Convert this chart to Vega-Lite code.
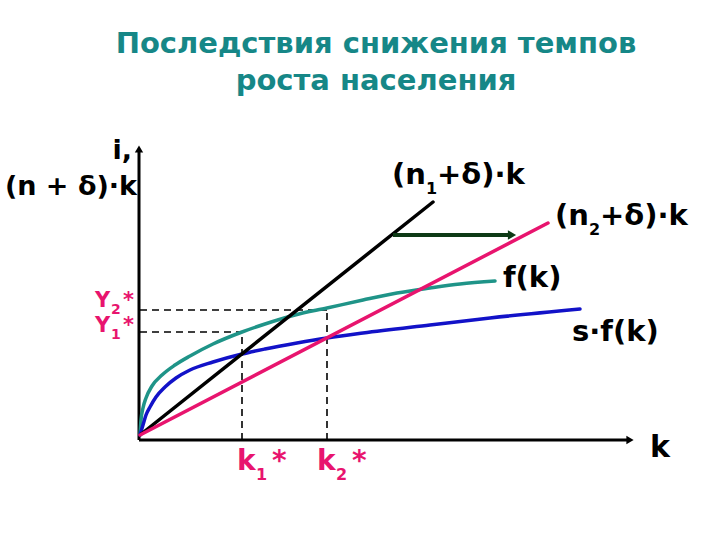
{
  "$schema": "https://vega.github.io/schema/vega-lite/v6.json",
  "width": 720,
  "height": 540,
  "autosize": {"type": "fit", "contains": "padding"},
  "padding": 0,
  "background": "white",
  "config": {"view": {"stroke": null}},
  "datasets": {
    "curves": [
      {"series": "f(k)", "k": 0, "v": 0},
      {"series": "f(k)", "k": 1, "v": 15},
      {"series": "f(k)", "k": 3, "v": 27},
      {"series": "f(k)", "k": 6, "v": 37},
      {"series": "f(k)", "k": 12, "v": 49},
      {"series": "f(k)", "k": 22, "v": 60},
      {"series": "f(k)", "k": 35, "v": 70},
      {"series": "f(k)", "k": 50, "v": 79},
      {"series": "f(k)", "k": 73, "v": 91},
      {"series": "f(k)", "k": 102, "v": 103},
      {"series": "f(k)", "k": 125, "v": 111},
      {"series": "f(k)", "k": 155, "v": 120},
      {"series": "f(k)", "k": 187, "v": 127},
      {"series": "f(k)", "k": 223, "v": 135},
      {"series": "f(k)", "k": 257, "v": 142},
      {"series": "f(k)", "k": 290, "v": 147},
      {"series": "f(k)", "k": 320, "v": 151},
      {"series": "f(k)", "k": 355, "v": 154},
      {"series": "s·f(k)", "k": 0, "v": 0},
      {"series": "s·f(k)", "k": 3, "v": 10},
      {"series": "s·f(k)", "k": 6, "v": 20},
      {"series": "s·f(k)", "k": 10, "v": 28},
      {"series": "s·f(k)", "k": 16, "v": 38},
      {"series": "s·f(k)", "k": 25, "v": 48},
      {"series": "s·f(k)", "k": 36, "v": 57},
      {"series": "s·f(k)", "k": 50, "v": 65},
      {"series": "s·f(k)", "k": 73, "v": 73},
      {"series": "s·f(k)", "k": 102, "v": 81},
      {"series": "s·f(k)", "k": 125, "v": 86},
      {"series": "s·f(k)", "k": 157, "v": 92},
      {"series": "s·f(k)", "k": 187, "v": 97},
      {"series": "s·f(k)", "k": 223, "v": 102},
      {"series": "s·f(k)", "k": 290, "v": 110},
      {"series": "s·f(k)", "k": 350, "v": 117},
      {"series": "s·f(k)", "k": 440, "v": 126},
      {"series": "(n1+δ)·k", "k": 0, "v": 0},
      {"series": "(n1+δ)·k", "k": 293, "v": 233},
      {"series": "(n2+δ)·k", "k": 0, "v": 0},
      {"series": "(n2+δ)·k", "k": 408, "v": 212}
    ],
    "dashes": [
      {"name": "Y2", "k": 0, "v": 125, "k2": 187, "v2": 125},
      {"name": "k2", "k": 187, "v": -5, "k2": 187, "v2": 125},
      {"name": "Y1", "k": 0, "v": 103, "k2": 102, "v2": 103},
      {"name": "k1", "k": 102, "v": -5, "k2": 102, "v2": 103}
    ],
    "axes": [
      {"name": "vertical", "k": -1, "v": -5, "k2": -1, "v2": 284},
      {"name": "horizontal", "k": -1, "v": -5, "k2": 488, "v2": -5}
    ],
    "heads": [
      {"dir": "up", "k": -1, "v": 286},
      {"dir": "right", "k": 490, "v": -5}
    ],
    "shift": [
      {"k": 253, "v": 200, "k2": 370, "v2": 200}
    ],
    "shifthead": [
      {"k": 372, "v": 200}
    ],
    "title": [
      {"text": "Последствия снижения темпов", "k": 236, "v": 382},
      {"text": "роста населения", "k": 236, "v": 345}
    ],
    "curvelabels": [
      {"text": "(n", "k": 252, "v": 251},
      {"text": "+δ)·k", "k": 297, "v": 251},
      {"text": "(n", "k": 415, "v": 210},
      {"text": "+δ)·k", "k": 460, "v": 210},
      {"text": "f(k)", "k": 363, "v": 148},
      {"text": "s·f(k)", "k": 432, "v": 94}
    ],
    "curvesubs": [
      {"text": "1", "k": 286, "v": 241},
      {"text": "2", "k": 449, "v": 200}
    ],
    "ylabels": [
      {"text": "i,", "k": -8, "v": 276},
      {"text": "(n + δ)·k", "k": -3, "v": 240}
    ],
    "klabel": [
      {"text": "k", "k": 510, "v": -22}
    ],
    "ystar": [
      {"text": "Y", "k": -45, "v": 128},
      {"text": "*", "k": -17, "v": 128},
      {"text": "Y", "k": -45, "v": 103},
      {"text": "*", "k": -17, "v": 103}
    ],
    "ystarsubs": [
      {"text": "2", "k": -29, "v": 121},
      {"text": "1", "k": -29, "v": 96}
    ],
    "kstar": [
      {"text": "k", "k": 97, "v": -35},
      {"text": "*", "k": 132, "v": -35},
      {"text": "k", "k": 177, "v": -35},
      {"text": "*", "k": 212, "v": -35}
    ],
    "kstarsubs": [
      {"text": "1", "k": 116, "v": -45},
      {"text": "2", "k": 196, "v": -45}
    ]
  },
  "layer": [
    {
      "data": {"name": "dashes"},
      "mark": {"type": "rule", "color": "black", "strokeWidth": 1.6, "strokeDash": [7, 5]},
      "encoding": {
        "x": {"field": "k", "type": "quantitative", "scale": {"domain": [-140, 580], "nice": false, "zero": false}, "axis": null},
        "y": {"field": "v", "type": "quantitative", "scale": {"domain": [-105, 435], "nice": false, "zero": false}, "axis": null},
        "x2": {"field": "k2"},
        "y2": {"field": "v2"}
      }
    },
    {
      "data": {"name": "axes"},
      "mark": {"type": "rule", "color": "black", "strokeWidth": 3},
      "encoding": {
        "x": {"field": "k", "type": "quantitative", "scale": {"domain": [-140, 580], "nice": false, "zero": false}, "axis": null},
        "y": {"field": "v", "type": "quantitative", "scale": {"domain": [-105, 435], "nice": false, "zero": false}, "axis": null},
        "x2": {"field": "k2"},
        "y2": {"field": "v2"}
      }
    },
    {
      "data": {"name": "heads"},
      "mark": {"type": "point", "filled": true, "color": "black", "opacity": 1, "size": 70},
      "encoding": {
        "x": {"field": "k", "type": "quantitative", "scale": {"domain": [-140, 580], "nice": false, "zero": false}, "axis": null},
        "y": {"field": "v", "type": "quantitative", "scale": {"domain": [-105, 435], "nice": false, "zero": false}, "axis": null},
        "shape": {"field": "dir", "type": "nominal", "scale": {"domain": ["up", "right"], "range": ["triangle-up", "triangle-right"]}, "legend": null}
      }
    },
    {
      "data": {"name": "curves"},
      "mark": {"type": "line", "strokeWidth": 3.5, "strokeCap": "round", "interpolate": "monotone"},
      "encoding": {
        "x": {"field": "k", "type": "quantitative", "scale": {"domain": [-140, 580], "nice": false, "zero": false}, "axis": null},
        "y": {"field": "v", "type": "quantitative", "scale": {"domain": [-105, 435], "nice": false, "zero": false}, "axis": null},
        "color": {"field": "series", "type": "nominal", "scale": {"domain": ["f(k)", "s·f(k)", "(n1+δ)·k", "(n2+δ)·k"], "range": ["#1f9488", "#1212c8", "#000000", "#e8146e"]}, "legend": null}
      }
    },
    {
      "data": {"name": "shift"},
      "mark": {"type": "rule", "color": "#0e3a16", "strokeWidth": 4},
      "encoding": {
        "x": {"field": "k", "type": "quantitative", "scale": {"domain": [-140, 580], "nice": false, "zero": false}, "axis": null},
        "y": {"field": "v", "type": "quantitative", "scale": {"domain": [-105, 435], "nice": false, "zero": false}, "axis": null},
        "x2": {"field": "k2"},
        "y2": {"field": "v2"}
      }
    },
    {
      "data": {"name": "shifthead"},
      "mark": {"type": "point", "shape": "triangle-right", "filled": true, "color": "#0e3a16", "opacity": 1, "size": 90},
      "encoding": {
        "x": {"field": "k", "type": "quantitative", "scale": {"domain": [-140, 580], "nice": false, "zero": false}, "axis": null},
        "y": {"field": "v", "type": "quantitative", "scale": {"domain": [-105, 435], "nice": false, "zero": false}, "axis": null}
      }
    },
    {
      "data": {"name": "title"},
      "mark": {"type": "text", "font": "DejaVu Sans", "fontWeight": "bold", "fontSize": 29, "color": "#168787", "align": "center", "baseline": "alphabetic"},
      "encoding": {
        "x": {"field": "k", "type": "quantitative", "scale": {"domain": [-140, 580], "nice": false, "zero": false}, "axis": null},
        "y": {"field": "v", "type": "quantitative", "scale": {"domain": [-105, 435], "nice": false, "zero": false}, "axis": null},
        "text": {"field": "text"}
      }
    },
    {
      "data": {"name": "curvelabels"},
      "mark": {"type": "text", "font": "DejaVu Sans", "fontWeight": "bold", "fontSize": 29, "color": "black", "align": "left", "baseline": "alphabetic"},
      "encoding": {
        "x": {"field": "k", "type": "quantitative", "scale": {"domain": [-140, 580], "nice": false, "zero": false}, "axis": null},
        "y": {"field": "v", "type": "quantitative", "scale": {"domain": [-105, 435], "nice": false, "zero": false}, "axis": null},
        "text": {"field": "text"}
      }
    },
    {
      "data": {"name": "curvesubs"},
      "mark": {"type": "text", "font": "DejaVu Sans", "fontWeight": "bold", "fontSize": 16, "color": "black", "align": "left", "baseline": "alphabetic"},
      "encoding": {
        "x": {"field": "k", "type": "quantitative", "scale": {"domain": [-140, 580], "nice": false, "zero": false}, "axis": null},
        "y": {"field": "v", "type": "quantitative", "scale": {"domain": [-105, 435], "nice": false, "zero": false}, "axis": null},
        "text": {"field": "text"}
      }
    },
    {
      "data": {"name": "ylabels"},
      "mark": {"type": "text", "font": "DejaVu Sans", "fontWeight": "bold", "fontSize": 27, "color": "black", "align": "right", "baseline": "alphabetic"},
      "encoding": {
        "x": {"field": "k", "type": "quantitative", "scale": {"domain": [-140, 580], "nice": false, "zero": false}, "axis": null},
        "y": {"field": "v", "type": "quantitative", "scale": {"domain": [-105, 435], "nice": false, "zero": false}, "axis": null},
        "text": {"field": "text"}
      }
    },
    {
      "data": {"name": "klabel"},
      "mark": {"type": "text", "font": "DejaVu Sans", "fontWeight": "bold", "fontSize": 30, "color": "black", "align": "left", "baseline": "alphabetic"},
      "encoding": {
        "x": {"field": "k", "type": "quantitative", "scale": {"domain": [-140, 580], "nice": false, "zero": false}, "axis": null},
        "y": {"field": "v", "type": "quantitative", "scale": {"domain": [-105, 435], "nice": false, "zero": false}, "axis": null},
        "text": {"field": "text"}
      }
    },
    {
      "data": {"name": "ystar"},
      "mark": {"type": "text", "font": "DejaVu Sans", "fontWeight": "bold", "fontSize": 21, "color": "#e8146e", "align": "left", "baseline": "alphabetic"},
      "encoding": {
        "x": {"field": "k", "type": "quantitative", "scale": {"domain": [-140, 580], "nice": false, "zero": false}, "axis": null},
        "y": {"field": "v", "type": "quantitative", "scale": {"domain": [-105, 435], "nice": false, "zero": false}, "axis": null},
        "text": {"field": "text"}
      }
    },
    {
      "data": {"name": "ystarsubs"},
      "mark": {"type": "text", "font": "DejaVu Sans", "fontWeight": "bold", "fontSize": 14, "color": "#e8146e", "align": "left", "baseline": "alphabetic"},
      "encoding": {
        "x": {"field": "k", "type": "quantitative", "scale": {"domain": [-140, 580], "nice": false, "zero": false}, "axis": null},
        "y": {"field": "v", "type": "quantitative", "scale": {"domain": [-105, 435], "nice": false, "zero": false}, "axis": null},
        "text": {"field": "text"}
      }
    },
    {
      "data": {"name": "kstar"},
      "mark": {"type": "text", "font": "DejaVu Sans", "fontWeight": "bold", "fontSize": 28, "color": "#e8146e", "align": "left", "baseline": "alphabetic"},
      "encoding": {
        "x": {"field": "k", "type": "quantitative", "scale": {"domain": [-140, 580], "nice": false, "zero": false}, "axis": null},
        "y": {"field": "v", "type": "quantitative", "scale": {"domain": [-105, 435], "nice": false, "zero": false}, "axis": null},
        "text": {"field": "text"}
      }
    },
    {
      "data": {"name": "kstarsubs"},
      "mark": {"type": "text", "font": "DejaVu Sans", "fontWeight": "bold", "fontSize": 16, "color": "#e8146e", "align": "left", "baseline": "alphabetic"},
      "encoding": {
        "x": {"field": "k", "type": "quantitative", "scale": {"domain": [-140, 580], "nice": false, "zero": false}, "axis": null},
        "y": {"field": "v", "type": "quantitative", "scale": {"domain": [-105, 435], "nice": false, "zero": false}, "axis": null},
        "text": {"field": "text"}
      }
    }
  ]
}
